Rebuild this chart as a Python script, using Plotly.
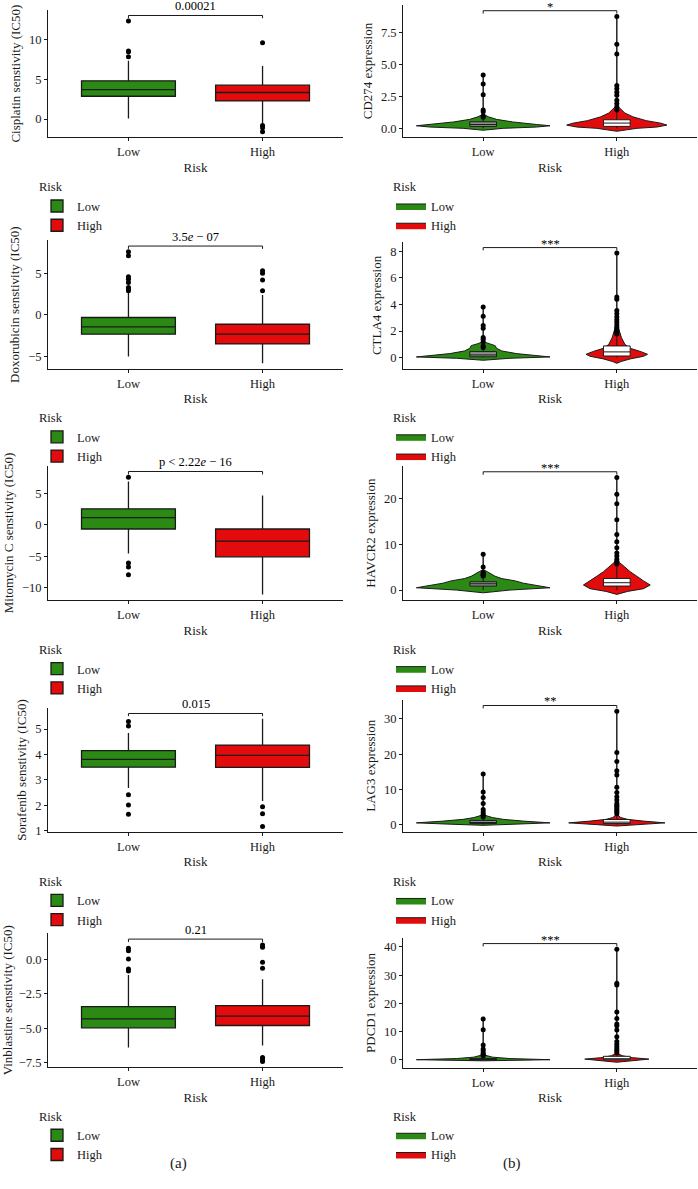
import plotly.graph_objects as go

W, H = 698, 1189

risk = ["Low", "High"]
low_color = "#2a8a14"
high_color = "#e30b0b"

# ---- (a) drug sensitivity: box statistics ----
drugs = ["Cisplatin", "Doxorubicin", "Mitomycin C", "Sorafenib", "Vinblastine"]
drug_p = ["0.00021", "3.5<i>e</i> − 07", "p &lt; 2.22<i>e</i> − 16", "0.015", "0.21"]
drug_dtick = [5, 5, 5, 1, 2.5]
drug_fmt = ["", "", "", "", ".1f"]

low_q1 = [2.86, -2.31, -0.64, 3.50, -4.98]
low_med = [3.70, -1.44, 1.17, 3.81, -4.33]
low_q3 = [4.79, -0.31, 2.57, 4.15, -3.44]
low_lo = [0.05, -5.0, -4.56, 2.68, -6.41]
low_hi = [7.3, 2.8, 6.95, 4.84, -1.14]
low_out = [
    [7.82, 8.45, 8.54, 12.3],
    [7.6, 7.1, 4.6, 4.3, 3.9, 3.3, 3.1, 2.9],
    [7.6, -6.05, -6.7, -7.93],
    [5.3, 5.12, 2.42, 2.01, 1.65],
    [0.8, 0.62, 0.02, -0.70, -0.85],
]
high_q1 = [2.27, -3.48, -5.09, 3.49, -4.81]
high_med = [3.33, -2.31, -2.57, 3.96, -4.13]
high_q3 = [4.25, -1.12, -0.64, 4.37, -3.36]
high_lo = [-0.58, -5.8, -11.08, 2.17, -6.27]
high_hi = [6.65, 2.4, 4.7, 5.4, -1.45]
high_out = [
    [9.58, -0.8, -1.1, -1.6],
    [5.3, 5.0, 4.2, 2.9],
    [],
    [1.94, 1.67, 1.17],
    [1.04, 0.87, -0.22, -0.65, -7.13, -7.3, -7.42],
]

# ---- (b) checkpoint gene expression: violins ----
genes = ["CD274", "CTLA4", "HAVCR2", "LAG3", "PDCD1"]
gene_stars = ["*", "***", "***", "**", "***"]
gene_dtick = [2.5, 2, 10, 10, 10]
gene_fmt = [".1f", "", "", "", ""]

# violin outline: expression levels and half-widths (share of a category slot)
vio_low_y = [
    [-0.15, 0.0, 0.1, 0.2, 0.3, 0.5, 0.7, 0.9, 1.1],
    [-0.2, -0.05, 0.05, 0.15, 0.3, 0.5, 0.7, 0.9, 1.05, 1.2],
    [-0.6, 0.0, 0.5, 1.0, 1.5, 2.0, 2.5, 3.0, 3.5, 4.0, 4.5],
    [-0.2, 0.2, 0.5, 1.0, 1.5, 2.0, 2.8],
    [-0.3, 0.1, 0.5, 1.0, 1.5, 2.0],
]
vio_low_w = [
    [0, 0.15, 0.4, 0.5, 0.4, 0.22, 0.1, 0.04, 0],
    [0, 0.2, 0.5, 0.38, 0.25, 0.14, 0.1, 0.09, 0.04, 0],
    [0, 0.2, 0.5, 0.4, 0.3, 0.24, 0.14, 0.09, 0.06, 0.03, 0],
    [0, 0.3, 0.5, 0.3, 0.15, 0.07, 0],
    [0, 0.5, 0.2, 0.07, 0.03, 0],
]
vio_high_y = [
    [-0.23, 0.0, 0.1, 0.25, 0.4, 0.6, 0.9, 1.2, 1.5, 1.8],
    [-0.43, -0.3, -0.1, 0.1, 0.25, 0.45, 0.7, 1.0, 1.5, 2.0, 2.6],
    [-0.95, -0.3, 0.3, 1.1, 2.0, 3.0, 4.0, 5.0, 6.0, 7.0],
    [-0.4, 0.0, 0.5, 1.0, 1.5, 2.0, 3.0],
    [-0.8, -0.3, 0.3, 0.8, 1.5, 2.5],
]
vio_high_w = [
    [0, 0.15, 0.3, 0.375, 0.33, 0.22, 0.12, 0.06, 0.03, 0],
    [0, 0.03, 0.1, 0.2, 0.23, 0.18, 0.1, 0.06, 0.035, 0.02, 0],
    [0, 0.08, 0.2, 0.25, 0.2, 0.15, 0.1, 0.06, 0.02, 0],
    [0, 0.15, 0.36, 0.2, 0.08, 0.03, 0],
    [0, 0.1, 0.24, 0.12, 0.04, 0],
]
g_low_q1 = [0.15, 0.06, 0.87, 0.3, 0.05]
g_low_med = [0.3, 0.2, 1.37, 0.6, 0.15]
g_low_q3 = [0.51, 0.45, 1.8, 1.2, 0.5]
g_low_lo = [0.0, 0.0, 0.0, 0.0, 0.0]
g_low_hi = [0.8, 0.7, 3.0, 2.0, 1.2]
g_low_out = [
    [0.87, 0.97, 1.3, 1.43, 2.63, 3.47, 4.18],
    [0.76, 0.88, 1.19, 1.39, 1.52, 2.21, 2.41, 3.12, 3.81],
    [3.05, 3.2, 3.4, 3.6, 3.8, 5.0, 7.8],
    [2.2, 2.6, 3.0, 3.6, 4.3, 6.0, 7.7, 9.3, 14.4],
    [1.5, 2.0, 2.5, 3.3, 3.9, 5.3, 10.7, 14.5],
]
g_high_q1 = [0.15, 0.12, 0.87, 0.3, 0.1]
g_high_med = [0.41, 0.43, 1.6, 0.7, 0.4]
g_high_q3 = [0.67, 0.88, 2.53, 1.45, 1.3]
g_high_lo = [0.0, 0.0, 0.0, 0.0, 0.0]
g_high_hi = [1.3, 1.7, 5.2, 3.0, 2.4]
g_high_out = [
    [1.43, 1.68, 1.94, 2.2, 2.58, 2.83, 3.09, 3.34, 5.81, 6.58, 8.75],
    [1.78, 1.9, 2.03, 2.15, 2.29, 2.45, 2.67, 2.85, 3.05, 3.3, 3.55, 4.39, 4.57, 7.87],
    [5.7, 6.2, 6.7, 7.4, 8.1, 9.2, 10.5, 12.1, 15.3, 18.8, 20.9, 24.5],
    [3.1, 3.6, 4.1, 4.6, 5.1, 5.5, 6.0, 7.0, 7.9, 9.1, 10.6, 14.1, 15.3, 17.9, 20.5, 32.2],
    [2.6, 3.3, 3.9, 4.7, 5.6, 6.5, 8.2, 10.6, 12.1, 12.7, 14.7, 17.0, 26.5, 27.2, 39.2],
]

FONT = "Liberation Serif"
INK = "#1a1a1a"
FS = 12.5

# panel geometry in screen pixels
left_x = (48, 343)
right_x = (403, 697)
left_rows = [(10, 138), (241.7, 370.7), (468, 603.3), (711.7, 836), (938, 1072.7)]
right_rows = [(5, 137.7), (243.3, 370.7), (468.3, 603.3), (703.3, 836), (942.7, 1073.3)]
legend_top = [176, 408, 641, 874, 1110]


def fx(p):
    return p / W


def fy(p):
    return 1 - p / H


fig = go.Figure()
annotations = []
layout = {}


def refs(k):
    return ("x" if k == 1 else f"x{k}"), ("y" if k == 1 else f"y{k}"), ("legend" if k == 1 else f"legend{k}")


def add_panel_axes(k, xpx, ypx, ytitle, yr, dtick, fmt, leg_x, leg_top):
    xn = "xaxis" if k == 1 else f"xaxis{k}"
    yn = "yaxis" if k == 1 else f"yaxis{k}"
    ln = "legend" if k == 1 else f"legend{k}"
    xa, ya, _ = refs(k)
    tick = dict(family=FONT, size=FS, color=INK)
    ttl = dict(family=FONT, size=13, color=INK)
    layout[xn] = dict(domain=[fx(xpx[0]), fx(xpx[1])], anchor=ya, range=[0.4, 2.6],
                      tickvals=[1, 2], ticktext=risk, showline=True, linecolor=INK, linewidth=1,
                      ticks="outside", ticklen=3, tickcolor=INK, showgrid=False, zeroline=False,
                      tickfont=tick, title=dict(text="Risk", font=ttl, standoff=4))
    layout[yn] = dict(domain=[fy(ypx[1]), fy(ypx[0])], anchor=xa, range=yr,
                      dtick=dtick, tick0=0, tickformat=fmt, showline=True, linecolor=INK, linewidth=1,
                      ticks="outside", ticklen=3, tickcolor=INK, showgrid=False, zeroline=False,
                      tickfont=tick, title=dict(text=ytitle, font=ttl, standoff=5))
    layout[ln] = dict(x=fx(leg_x), y=fy(leg_top), xanchor="left", yanchor="top",
                      title=dict(text="Risk", font=dict(family=FONT, size=FS, color=INK)),
                      font=dict(family=FONT, size=FS, color=INK), bgcolor="rgba(0,0,0,0)",
                      itemwidth=30, tracegroupgap=0)


def add_bracket(k, vals, label, shift):
    xa, ya, _ = refs(k)
    lo, hi = min(vals), max(vals)
    span = hi - lo
    b = hi + 0.05 * span
    d = 0.025 * span
    fig.add_trace(go.Scatter(x=[1, 1, 2, 2], y=[b - d, b, b, b - d], mode="lines",
                             line=dict(color=INK, width=1), showlegend=False, hoverinfo="skip",
                             xaxis=xa, yaxis=ya))
    annotations.append(dict(x=1.5, y=b, xref=xa, yref=ya, text=label, showarrow=False,
                            yanchor="bottom", yshift=shift, font=dict(family=FONT, size=FS, color="black")))
    return [lo - 0.05 * span, hi + 0.10 * span]


# ---- left column: box plots ----
for i, drug in enumerate(drugs):
    k = i + 1
    xa, ya, leg = refs(k)
    groups = [
        ("Low", 1, low_color, low_q1[i], low_med[i], low_q3[i], low_lo[i], low_hi[i], low_out[i]),
        ("High", 2, high_color, high_q1[i], high_med[i], high_q3[i], high_lo[i], high_hi[i], high_out[i]),
    ]
    vals = []
    for name, pos, col, q1, med, q3, lo, hi, out in groups:
        fig.add_trace(go.Box(x=[pos], q1=[q1], median=[med], q3=[q3], lowerfence=[lo], upperfence=[hi],
                             name=name, width=0.7, fillcolor=col, line=dict(color=INK, width=1.3),
                             whiskerwidth=0, boxpoints=False, xaxis=xa, yaxis=ya, legend=leg,
                             showlegend=True, hoverinfo="skip"))
        if out:
            fig.add_trace(go.Scatter(x=[pos] * len(out), y=out, mode="markers",
                                     marker=dict(color="black", size=5), showlegend=False,
                                     hoverinfo="skip", xaxis=xa, yaxis=ya))
        vals += [lo, hi] + out
    yr = add_bracket(k, vals, drug_p[i], 0)
    add_panel_axes(k, left_x, left_rows[i], f"{drug} senstivity (IC50)", yr,
                   drug_dtick[i], drug_fmt[i], 37, legend_top[i])

# ---- right column: violins, with boxes and points on an overlaid y axis ----
for i, gene in enumerate(genes):
    k = i + 6
    xa, ya, leg = refs(k)
    top = f"y{k + 5}"
    groups = [
        ("Low", 1, low_color, "#8f8f8f", vio_low_y[i], vio_low_w[i], g_low_q1[i], g_low_med[i],
         g_low_q3[i], g_low_lo[i], g_low_hi[i], g_low_out[i]),
        ("High", 2, high_color, "white", vio_high_y[i], vio_high_w[i], g_high_q1[i], g_high_med[i],
         g_high_q3[i], g_high_lo[i], g_high_hi[i], g_high_out[i]),
    ]
    vals = []
    for name, pos, col, bfill, vy, vw, q1, med, q3, lo, hi, out in groups:
        ys = vy + [max(out)]
        ws = vw + [0]
        xs = [pos + w for w in ws] + [pos - w for w in ws[::-1]]
        yy = ys + ys[::-1]
        fig.add_trace(go.Scatter(x=xs, y=yy, mode="lines", fill="toself", fillcolor=col,
                                 line=dict(color=INK, width=1), name=name, legend=leg,
                                 showlegend=True, hoverinfo="skip", xaxis=xa, yaxis=ya))
        fig.add_trace(go.Box(x=[pos], q1=[q1], median=[med], q3=[q3], lowerfence=[lo], upperfence=[hi],
                             width=0.2, fillcolor=bfill, line=dict(color=INK, width=1),
                             whiskerwidth=0, boxpoints=False, showlegend=False, hoverinfo="skip",
                             xaxis=xa, yaxis=top))
        fig.add_trace(go.Scatter(x=[pos] * len(out), y=out, mode="markers",
                                 marker=dict(color="black", size=5), showlegend=False,
                                 hoverinfo="skip", xaxis=xa, yaxis=top))
        vals += vy + out
    yr = add_bracket(k, vals, gene_stars[i], -5)
    add_panel_axes(k, right_x, right_rows[i], f"{gene} expression", yr,
                   gene_dtick[i], gene_fmt[i], 391, legend_top[i])
    layout[f"yaxis{k + 5}"] = dict(overlaying=ya, anchor=xa, range=yr, visible=False,
                                   showgrid=False, zeroline=False)

annotations.append(dict(x=fx(168), y=fy(1180), xref="paper", yref="paper", text="(a)",
                        showarrow=False, font=dict(family=FONT, size=15, color=INK)))
annotations.append(dict(x=fx(523), y=fy(1180), xref="paper", yref="paper", text="(b)",
                        showarrow=False, font=dict(family=FONT, size=15, color=INK)))

fig.update_layout(**layout)
fig.update_layout(width=W, height=H, margin=dict(l=0, r=0, t=0, b=0),
                  plot_bgcolor="white", paper_bgcolor="white", boxmode="overlay",
                  annotations=annotations, font=dict(family=FONT, color=INK))

# drop the default page margin so the figure sits at the window's corner
fig.write_html("out.html", config={"displayModeBar": False},
               post_script="document.body.style.margin='0px';")
